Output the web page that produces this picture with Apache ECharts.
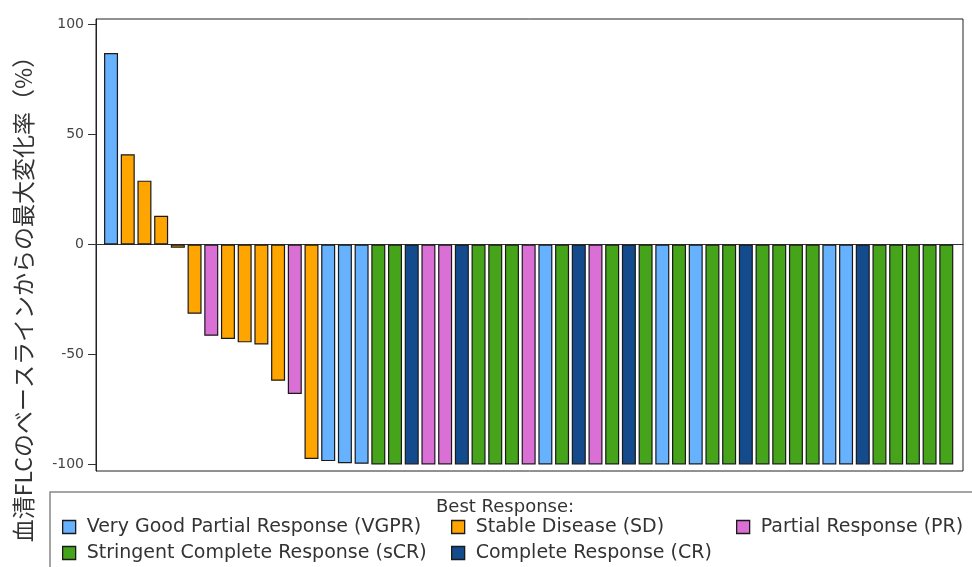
<!DOCTYPE html>
<html><head><meta charset="utf-8">
<script src="https://cdn.jsdelivr.net/npm/echarts@6/dist/echarts.min.js"></script>
<style>html,body{margin:0;padding:0;background:#fff}#c{width:972px;height:567px}</style>
</head><body><div id="c"></div>
<script>
// Best response per patient (in bar order)
const responses = ['VGPR','SD','SD','SD','SD','SD','PR','SD','SD','SD','SD','PR','SD','VGPR','VGPR','VGPR',
  'sCR','sCR','CR','PR','PR','CR','sCR','sCR','sCR','PR','VGPR','sCR','CR','PR','sCR','CR','sCR','VGPR','sCR',
  'VGPR','sCR','sCR','CR','sCR','sCR','sCR','sCR','VGPR','VGPR','CR','sCR','sCR','sCR','sCR','sCR'];
// Maximum change from baseline in serum FLC (%)
const values = [87,41,29,13,-1.5,-31.5,-41.5,-43,-44.5,-45.5,-62,-68,-97.5,-98.5,-99.5,-99.7,
  -100,-100,-100,-100,-100,-100,-100,-100,-100,-100,-100,-100,-100,-100,-100,-100,-100,-100,-100,
  -100,-100,-100,-100,-100,-100,-100,-100,-100,-100,-100,-100,-100,-100,-100,-100];
const yTicks = [-100,-50,0,50,100];
const responseCodes = ['VGPR','SD','PR','sCR','CR'];
const responseNames = ['Very Good Partial Response (VGPR)','Stable Disease (SD)','Partial Response (PR)',
  'Stringent Complete Response (sCR)','Complete Response (CR)'];
const responseColors = ['#66B2FF','#FFA500','#DA70D6','#46A41A','#134B8C'];

const series = responseCodes.map((code, k) => ({
  name: responseNames[k],
  type: 'bar',
  barWidth: 14,
  barGap: '-100%',
  itemStyle: { color: responseColors[k], borderColor: '#1a1a1a', borderWidth: 1.2 },
  emphasis: { disabled: true },
  data: values.map((v, i) => responses[i] === code ? [i, v] : null).filter(d => d)
}));

const legendFont = { fontFamily: 'DejaVu Sans', fontSize: 19, color: '#333', lineHeight: 20, padding: [0,0,0,6] };
function leg(name, left, top) {
  return { data: [name], left: left, top: top, padding: 0, itemWidth: 13, itemHeight: 13,
    icon: 'rect', itemStyle: { borderColor: '#1a1a1a', borderWidth: 1.3 }, textStyle: legendFont, selectedMode: false };
}

const chart = echarts.init(document.getElementById('c'));
chart.setOption({
  animation: false,
  title: { text: 'Best Response:', left: 436, top: 498, padding: 0,
    textStyle: { fontFamily: 'DejaVu Sans', fontSize: 18, fontWeight: 'normal', color: '#333' } },
  legend: [
    leg(responseNames[0], 62, 517),
    leg(responseNames[3], 62, 543),
    leg(responseNames[1], 451, 517),
    leg(responseNames[4], 451, 543),
    leg(responseNames[2], 736, 517)
  ],
  graphic: [{ type: 'rect', shape: { x: 50, y: 492, width: 940, height: 100 },
    style: { fill: 'none', stroke: '#888', lineWidth: 1.5 }, silent: true }],
  grid: { left: 96, right: 9, top: 19, bottom: 96, show: true, borderColor: '#222', borderWidth: 1 },
  xAxis: { type: 'value', min: -0.9, max: 51,
    axisLine: { onZero: true, lineStyle: { color: '#333', width: 1 } },
    axisTick: { show: false }, axisLabel: { show: false }, splitLine: { show: false } },
  yAxis: { type: 'value', min: -103, max: 102.5,
    name: '血清FLCのベースラインからの最大変化率（%）', nameLocation: 'middle', nameRotate: 90, nameGap: 61,
    nameTextStyle: { fontFamily: 'Noto Sans CJK JP', fontSize: 23, color: '#333', padding: [0,97,0,0] },
    axisLine: { show: true, onZero: false, lineStyle: { color: '#222' } },
    axisTick: { show: true, length: 8, customValues: yTicks, lineStyle: { color: '#333' } },
    axisLabel: { customValues: yTicks, margin: 12, fontFamily: 'DejaVu Sans', fontSize: 14, color: '#444' },
    splitLine: { show: false } },
  series: series
});
</script></body></html>
